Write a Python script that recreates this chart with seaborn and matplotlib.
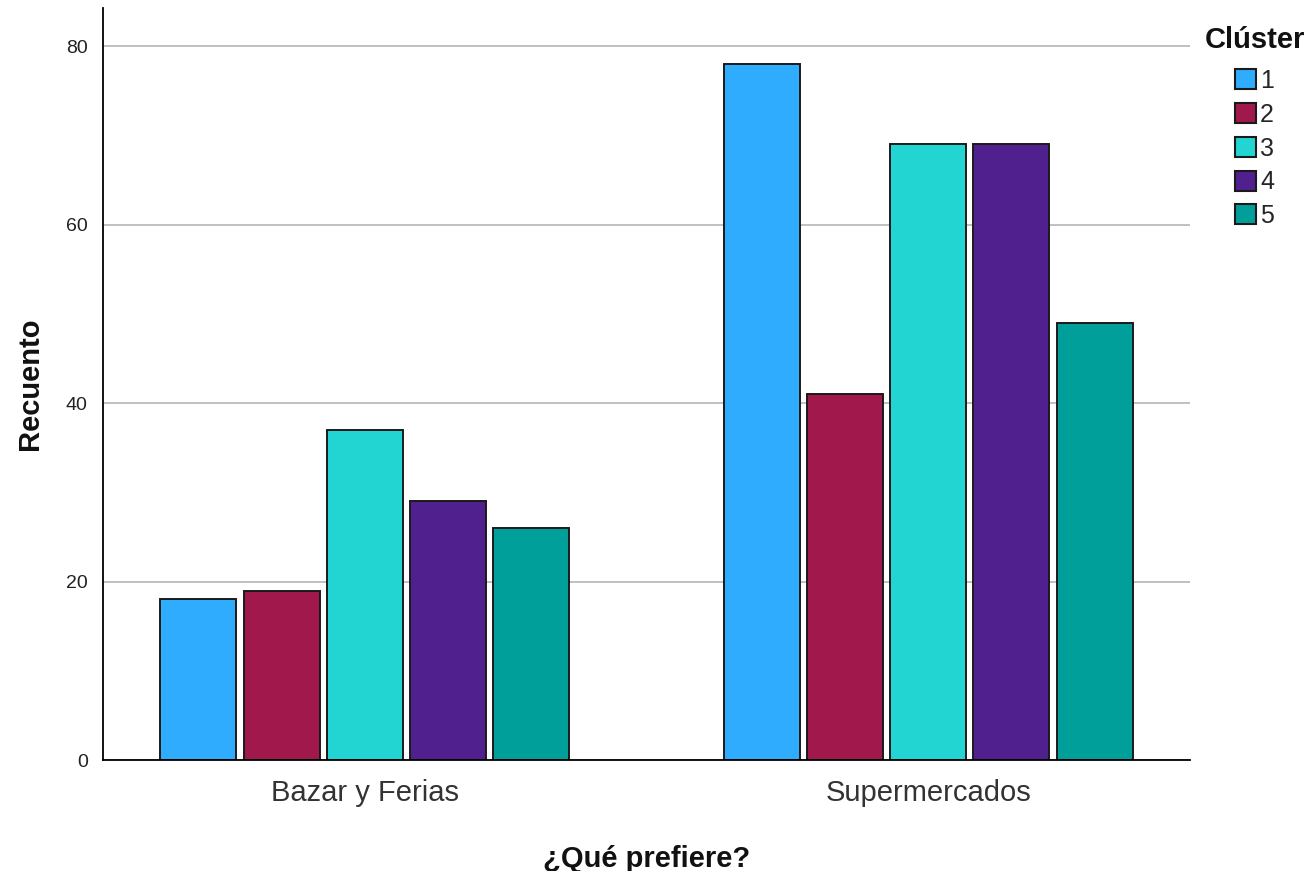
import pandas as pd
import numpy as np
import matplotlib
matplotlib.use("Agg")
import matplotlib.pyplot as plt
import seaborn as sns

# -------------------------------------------------------------
# DATA
# -------------------------------------------------------------
categories = ["Bazar y Ferias", "Supermercados"]
clusters = ["1", "2", "3", "4", "5"]
bazar_counts = [18, 19, 37, 29, 26]
super_counts = [78, 41, 69, 69, 49]
cluster_colors = ["#30acff", "#a1194c", "#23d5d2", "#51208f", "#009f9a"]

df = pd.DataFrame({
    "categoria": [categories[0]] * 5 + [categories[1]] * 5,
    "cluster": clusters * 2,
    "recuento": bazar_counts + super_counts,
})

sns.set_style("white")
plt.rcParams["font.family"] = ["Liberation Sans", "DejaVu Sans"]

W, H = 1313, 871
fig = plt.figure(figsize=(W / 100, H / 100), dpi=100)
ax = fig.add_axes([103 / W, 1 - 760 / H, (1190 - 103) / W, (760 - 8) / H])

sns.barplot(data=df, x="categoria", y="recuento", hue="cluster",
            hue_order=clusters, palette=cluster_colors, width=0.739,
            gap=0.085, edgecolor="#1a1a1a", linewidth=1.4, saturation=1,
            ax=ax)

ax.set_xlim(-0.465, 1.465)
ax.set_ylim(0, 84.3)
ax.set_yticks([0, 20, 40, 60, 80])
ax.yaxis.grid(True, color="#b5b5b5", linewidth=1.2)
ax.set_axisbelow(True)
for side in ["top", "right"]:
    ax.spines[side].set_visible(False)
for side in ["left", "bottom"]:
    ax.spines[side].set_color("black")
    ax.spines[side].set_linewidth(1.3)
ax.tick_params(axis="y", length=0, labelsize=14, pad=11, labelcolor="#222222")
ax.tick_params(axis="x", length=0, labelsize=21, pad=14, labelcolor="#333333")

ax.set_ylabel("Recuento", fontsize=21, fontweight="bold", labelpad=16, color="#111111")
ax.set_xlabel("¿Qué prefiere?", fontsize=21, fontweight="bold", labelpad=27, color="#111111")

# legend: title placed separately so the swatches sit indented below it
handles, labels = ax.get_legend_handles_labels()
if ax.legend_:
    ax.legend_.remove()
leg = fig.legend(handles, labels, loc="upper left",
                 bbox_to_anchor=(1235 / W, 1 - 69 / H), bbox_transform=fig.transFigure,
                 frameon=False, fontsize=18, borderpad=0, borderaxespad=0,
                 handlelength=0.85, handleheight=0.85, handletextpad=0.15,
                 labelspacing=0.39)
for p in leg.get_patches():
    p.set_edgecolor("#1a1a1a")
    p.set_linewidth(1.5)
fig.text(1205 / W, 1 - 40 / H, "Clúster", fontsize=21, fontweight="bold",
         va="center", ha="left", color="#111111")

fig.savefig("out.png", dpi=100)
